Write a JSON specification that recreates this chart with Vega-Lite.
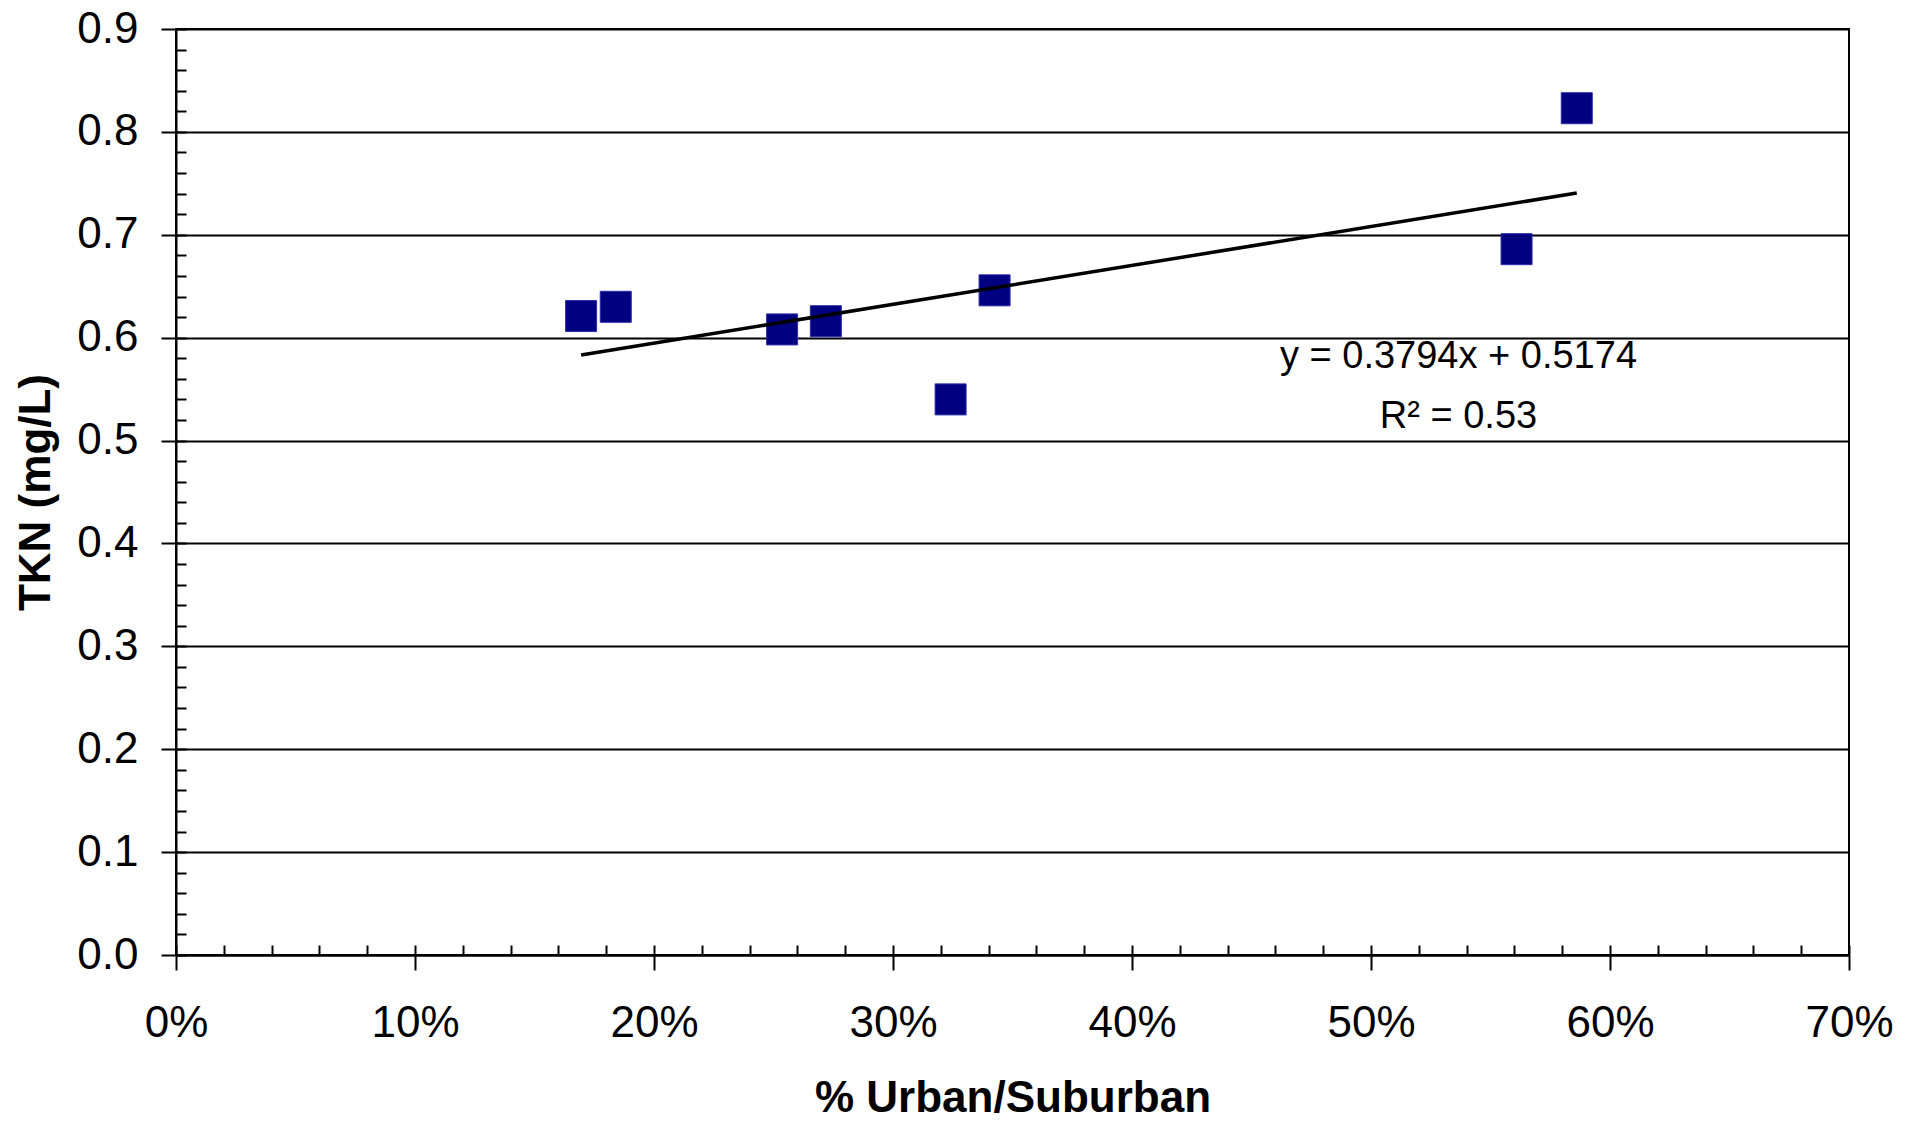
{
  "$schema": "https://vega.github.io/schema/vega-lite/v6.json",
  "width": 1673,
  "height": 926,
  "autosize": {"type": "none"},
  "padding": {"left": 176, "top": 29, "right": 68, "bottom": 166},
  "background": "white",
  "config": {
    "view": {"stroke": "#000", "strokeWidth": 2},
    "font": "Liberation Sans",
    "axis": {
      "labelFont": "Liberation Sans",
      "titleFont": "Liberation Sans",
      "labelColor": "#000",
      "titleColor": "#000",
      "domainColor": "#000",
      "tickColor": "#000",
      "gridColor": "#000",
      "domainWidth": 2,
      "tickWidth": 2,
      "gridWidth": 2,
      "labelFlush": false,
      "labelOverlap": false
    }
  },
  "data": {
    "values": [
      {"urban": 0.1695, "TKN": 0.621},
      {"urban": 0.1840, "TKN": 0.630},
      {"urban": 0.2536, "TKN": 0.608},
      {"urban": 0.2719, "TKN": 0.616},
      {"urban": 0.3241, "TKN": 0.540},
      {"urban": 0.3425, "TKN": 0.646},
      {"urban": 0.5609, "TKN": 0.686},
      {"urban": 0.5861, "TKN": 0.823}
    ]
  },
  "resolve": {"axis": {"x": "independent", "y": "independent"}},
  "layer": [
    {
      "mark": {"type": "point", "shape": "square", "filled": true, "size": 961, "color": "#000080", "opacity": 1, "stroke": "#2a2aa8", "strokeWidth": 1},
      "encoding": {
        "x": {
          "field": "urban", "type": "quantitative",
          "scale": {"domain": [0, 0.7], "nice": false, "zero": false},
          "axis": {
            "orient": "bottom",
            "values": [0, 0.1, 0.2, 0.3, 0.4, 0.5, 0.6, 0.7],
            "format": ".0%",
            "labelFontSize": 44,
            "tickSize": 15,
            "labelPadding": 31,
            "grid": false,
            "title": "% Urban/Suburban",
            "titleFontSize": 44,
            "titleFontWeight": "bold",
            "titlePadding": 31
          }
        },
        "y": {
          "field": "TKN", "type": "quantitative",
          "scale": {"domain": [0, 0.9], "nice": false, "zero": false},
          "axis": {
            "orient": "left",
            "values": [0, 0.1, 0.2, 0.3, 0.4, 0.5, 0.6, 0.7, 0.8, 0.9],
            "format": ".1f",
            "labelFontSize": 44,
            "tickSize": 15,
            "labelPadding": 23,
            "grid": true,
            "title": "TKN (mg/L)",
            "titleFontSize": 44,
            "titleFontWeight": "bold",
            "titlePadding": 18
          }
        }
      }
    },
    {
      "transform": [{"regression": "TKN", "on": "urban"}],
      "mark": {"type": "line", "color": "#000", "strokeWidth": 3.5},
      "encoding": {
        "x": {
          "field": "urban", "type": "quantitative",
          "axis": {
            "orient": "bottom",
            "values": [0, 0.02, 0.04, 0.06, 0.08, 0.1, 0.12, 0.14, 0.16, 0.18, 0.2, 0.22, 0.24, 0.26, 0.28, 0.3, 0.32, 0.34, 0.36, 0.38, 0.4, 0.42, 0.44, 0.46, 0.48, 0.5, 0.52, 0.54, 0.56, 0.58, 0.6, 0.62, 0.64, 0.66, 0.68, 0.7],
            "tickSize": -10,
            "labels": false,
            "domain": false,
            "grid": false,
            "title": null
          }
        },
        "y": {
          "field": "TKN", "type": "quantitative",
          "axis": {
            "orient": "left",
            "values": [0, 0.02, 0.04, 0.06, 0.08, 0.1, 0.12, 0.14, 0.16, 0.18, 0.2, 0.22, 0.24, 0.26, 0.28, 0.3, 0.32, 0.34, 0.36, 0.38, 0.4, 0.42, 0.44, 0.46, 0.48, 0.5, 0.52, 0.54, 0.56, 0.58, 0.6, 0.62, 0.64, 0.66, 0.68, 0.7, 0.72, 0.74, 0.76, 0.78, 0.8, 0.82, 0.84, 0.86, 0.88, 0.9],
            "tickSize": -10,
            "labels": false,
            "domain": false,
            "grid": false,
            "title": null
          }
        }
      }
    },
    {
      "data": {
        "values": [
          {"label": "y = 0.3794x + 0.5174", "lx": 0.5366, "ly": 0.571},
          {"label": "R² = 0.53", "lx": 0.5366, "ly": 0.5123}
        ]
      },
      "mark": {"type": "text", "font": "Liberation Sans", "fontSize": 38, "color": "#000", "align": "center", "baseline": "alphabetic"},
      "encoding": {
        "x": {"field": "lx", "type": "quantitative", "axis": null},
        "y": {"field": "ly", "type": "quantitative", "axis": null},
        "text": {"field": "label"}
      }
    }
  ]
}
